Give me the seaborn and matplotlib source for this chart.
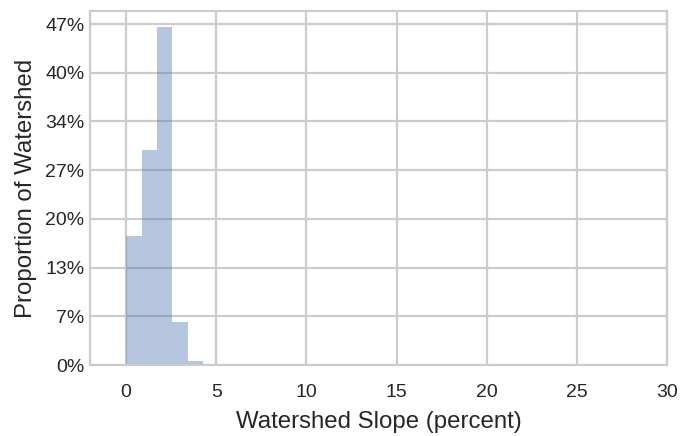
import numpy as np
import pandas as pd
import matplotlib
matplotlib.use("Agg")
import matplotlib.pyplot as plt
import seaborn as sns

# data: watershed slope histogram (proportion of watershed per slope bin)
bin_edges = list(np.linspace(0, 30, 36))
slope_centers = [0.43, 1.29, 2.14, 3.00, 3.86]
proportions = [0.178, 0.296, 0.465, 0.059, 0.0055]
ytick_values = [0.0, 0.067, 0.134, 0.201, 0.268, 0.335, 0.402, 0.469]
ytick_labels = ["0%", "7%", "13%", "20%", "27%", "34%", "40%", "47%"]
xtick_values = [0, 5, 10, 15, 20, 25, 30]

sns.set_style("whitegrid", {
    "grid.color": "#cccccc",
    "axes.edgecolor": "#cccccc",
})
plt.rcParams["font.family"] = ["Liberation Sans", "DejaVu Sans"]

fig = plt.figure(figsize=(6.94, 4.36), dpi=100)
ax = fig.add_axes([0.1297, 0.1628, 0.8314, 0.812])

df = pd.DataFrame({"slope": slope_centers, "prop": proportions})
sns.histplot(data=df, x="slope", weights="prop", bins=bin_edges,
             color="#4c72b0", alpha=0.4, linewidth=0, ax=ax)

ax.set_xlim(-2, 30)
ax.set_ylim(0, 0.487)
ax.set_xticks(xtick_values)
ax.set_yticks(ytick_values)
ax.set_yticklabels(ytick_labels)
ax.grid(True, color="#cccccc", linewidth=1.6)
ax.set_axisbelow(True)
for s in ax.spines.values():
    s.set_color("#cccccc")
    s.set_linewidth(1.6)
ax.tick_params(axis="both", labelsize=14, colors="#262626", length=0)
ax.tick_params(axis="y", pad=4)
ax.tick_params(axis="x", pad=14)
ax.set_xlabel("Watershed Slope (percent)", fontsize=17.3, color="#262626", labelpad=7)
ax.set_ylabel("Proportion of Watershed", fontsize=17.3, color="#262626", labelpad=6)

fig.savefig("out.png", dpi=100)
